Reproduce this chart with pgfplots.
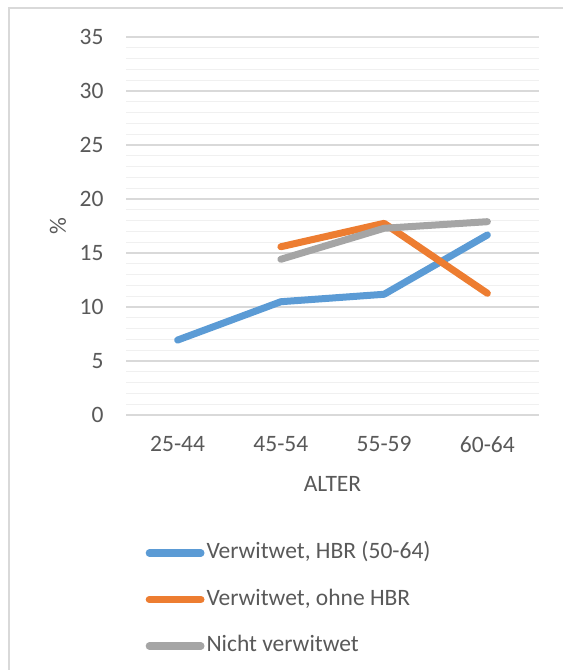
\documentclass[border=0pt]{standalone}
\usepackage{pgfplots}
\pgfplotsset{compat=1.18}
\usepackage{fontspec}
\setmainfont{Carlito}
\definecolor{txt}{HTML}{595959}
\definecolor{frm}{HTML}{D9D9D9}
\definecolor{gmaj}{HTML}{D9D9D9}
\definecolor{gmin}{HTML}{F0F0F0}
\definecolor{sblue}{HTML}{5B9BD5}
\definecolor{sorange}{HTML}{ED7D31}
\definecolor{sgray}{HTML}{A5A5A5}
\begin{document}
\begin{tikzpicture}[x=1bp,y=1bp]
\path[use as bounding box] (0,0) rectangle (563,-670);
\draw[color=frm, line width=1.3bp] (9,-670) -- (9,-8) -- (563,-8);
\begin{axis}[
  at={(126bp,-415bp)}, anchor=south west,
  scale only axis, width=413bp, height=378bp,
  xmin=-0.5, xmax=3.5, ymin=0, ymax=35,
  xtick={0,1,2,3}, xticklabels={25-44,45-54,55-59,60-64},
  ytick={0,5,...,35}, minor y tick num=4,
  ymajorgrids, yminorgrids,
  major grid style={color=gmaj, line width=1.3bp},
  minor grid style={color=gmin, line width=1.3bp},
  axis line style={draw=none},
  major tick length=0pt, minor tick length=0pt,
  tick label style={font=\fontsize{23.5bp}{28bp}\selectfont, color=txt},
  xticklabel style={yshift=-18bp},
  yticklabel style={xshift=-19bp},
  /pgf/number format/assume math mode=true,
  xlabel={ALTER}, ylabel={\%},
  label style={font=\fontsize{23.5bp}{28bp}\selectfont, color=txt},
  xlabel style={at={(axis description cs:0.5,-0.182)}, anchor=center},
  ylabel style={at={(axis description cs:-0.165,0.5)}, anchor=center},
  legend style={at={(axis description cs:0.040,-0.330)}, anchor=north west,
    draw=none, fill=none, font=\fontsize{23.5bp}{28bp}\selectfont, text=txt,
    nodes={inner sep=0pt, text height=17bp, text depth=5bp},
    row sep=24.5bp, column sep=2bp},
  legend cell align=left,
  legend image code/.code={\draw[#1, line width=7.3bp, line cap=round] (3.5bp,0bp) -- (55bp,0bp);},
]
\addplot[color=sblue, line width=7bp, line join=round, line cap=round] coordinates {(0,6.94) (1,10.49) (2,11.18) (3,16.67)};
\addlegendentry{Verwitwet, HBR (50-64)}
\addplot[color=sorange, line width=7bp, line join=round, line cap=round] coordinates {(1,15.58) (2,17.75) (3,11.27)};
\addlegendentry{Verwitwet, ohne HBR}
\addplot[color=sgray, line width=7bp, line join=round, line cap=round] coordinates {(1,14.42) (2,17.29) (3,17.9)};
\addlegendentry{Nicht verwitwet}
\end{axis}
\end{tikzpicture}
\end{document}
